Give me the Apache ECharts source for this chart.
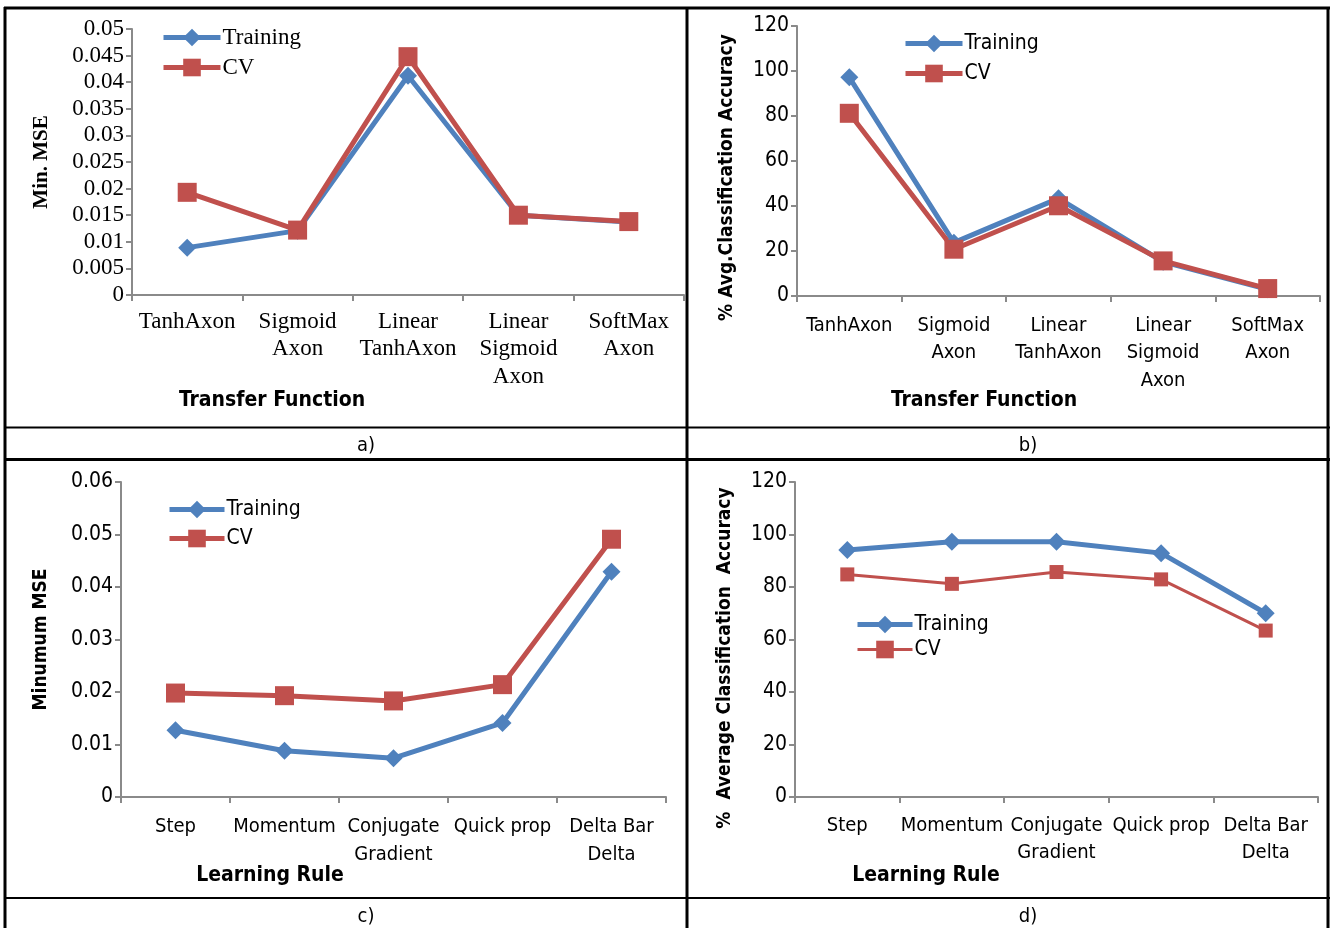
<!DOCTYPE html>
<html>
<head>
<meta charset="utf-8">
<script src="https://cdn.jsdelivr.net/npm/echarts@6/dist/echarts.min.js"></script>
<style>
html,body{margin:0;padding:0;background:#fff;}
#chart{width:1330px;height:928px;}
</style>
</head>
<body>
<div id="chart"></div>
<script>
// ---- Data ----
const categoriesTF = ['TanhAxon', 'Sigmoid\nAxon', 'Linear\nTanhAxon', 'Linear\nSigmoid\nAxon', 'SoftMax\nAxon'];
const categoriesLR = ['Step', 'Momentum', 'Conjugate\nGradient', 'Quick prop', 'Delta Bar\nDelta'];
const seriesNames = ['Training', 'CV'];

const mseTFTraining = [0.0089, 0.0121, 0.0412, 0.0150, 0.0137];
const mseTFCV = [0.0193, 0.0122, 0.0448, 0.0150, 0.0138];
const accTFTraining = [97.2, 23.7, 43.4, 15.2, 3.0];
const accTFCV = [81.2, 20.8, 40.1, 15.6, 3.3];
const mseLRTraining = [0.0127, 0.0088, 0.0074, 0.0141, 0.0429];
const mseLRCV = [0.0198, 0.0193, 0.0183, 0.0214, 0.0491];
const accLRTraining = [94.1, 97.2, 97.2, 92.9, 70.0];
const accLRCV = [84.8, 81.2, 85.7, 82.9, 63.4];

const yTicksA = ['0', '0.005', '0.01', '0.015', '0.02', '0.025', '0.03', '0.035', '0.04', '0.045', '0.05'];
const yTicksB = ['0', '20', '40', '60', '80', '100', '120'];
const yTicksC = ['0', '0.01', '0.02', '0.03', '0.04', '0.05', '0.06'];
const yTicksD = ['0', '20', '40', '60', '80', '100', '120'];

const panelCaptions = ['a)', 'b)', 'c)', 'd)'];
const axisTitlesX = ['Transfer Function', 'Transfer Function', 'Learning Rule', 'Learning Rule'];
const axisTitlesY = ['Min. MSE', '% Avg.Classification Accuracy', 'Minumum MSE', '%  Average Classification  Accuracy'];

// ---- Styles ----
const BLUE = '#4F81BD';
const RED = '#C0504D';
const AXIS = '#8a8a8a';
const SERIF = '"Liberation Serif", "Times New Roman", serif';
const NARROW = '"Liberation Sans Narrow", "Arial Narrow", "DejaVu Sans Condensed", sans-serif';

const grids = [
  {left: 132, top: 29, width: 552, height: 266},
  {left: 797, top: 26, width: 523, height: 270},
  {left: 121, top: 482, width: 545, height: 315},
  {left: 795, top: 482, width: 523, height: 315}
];

const fonts = [SERIF, NARROW, NARROW, NARROW];
const fontSizes = [23, 20, 20, 20];
const labelMargins = [13, 16, 16, 15];
const lineHeights = [27.5, 27.5, 28, 27];
const yRanges = [[0, 0.05, 0.005], [0, 120, 20], [0, 0.06, 0.01], [0, 120, 20]];
const yTickLists = [yTicksA, yTicksB, yTicksC, yTicksD];
const nameGaps = [80, 60, 70, 60];
const namePads = [[0, 0, 0, 0], [0, 33, 0, 0], [0, 0, 0, 0], [0, 37, 0, 0]];
const catLists = [categoriesTF, categoriesTF, categoriesLR, categoriesLR];

const xAxes = grids.map((g, i) => ({
  type: 'category',
  gridIndex: i,
  data: catLists[i],
  boundaryGap: true,
  axisLine: {lineStyle: {color: AXIS, width: 2}},
  axisTick: {show: true, inside: false, length: 6, lineStyle: {color: AXIS, width: 2}, alignWithLabel: false},
  axisLabel: {
    interval: 0, margin: labelMargins[i], color: '#000',
    fontFamily: fonts[i], fontSize: fontSizes[i], lineHeight: lineHeights[i], align: 'center'
  },
  splitLine: {show: false}
}));

const yAxes = grids.map((g, i) => ({
  type: 'value',
  gridIndex: i,
  min: yRanges[i][0], max: yRanges[i][1], interval: yRanges[i][2],
  axisLine: {show: true, lineStyle: {color: AXIS, width: 2}},
  axisTick: {show: true, inside: false, length: 6, lineStyle: {color: AXIS, width: 2}},
  axisLabel: {
    margin: 8, color: '#000', fontFamily: fonts[i], fontSize: i === 0 ? 23 : 21,
    formatter: (v) => {
      const list = yTickLists[i];
      const idx = Math.round((v - yRanges[i][0]) / yRanges[i][2]);
      return list[idx] !== undefined ? list[idx] : String(v);
    }
  },
  splitLine: {show: false},
  name: axisTitlesY[i],
  nameLocation: 'middle',
  nameRotate: 90,
  nameGap: nameGaps[i],
  nameTextStyle: {
    color: '#000', fontWeight: 'bold',
    fontFamily: i === 0 ? SERIF : NARROW,
    fontSize: i === 0 ? 21 : 19,
    padding: namePads[i]
  }
}));

function mkSeries(name, data, idx, color, symbol, symbolSize, width) {
  return {
    name: name, type: 'line', xAxisIndex: idx, yAxisIndex: idx, data: data,
    symbol: symbol, symbolSize: symbolSize,
    lineStyle: {color: color, width: width},
    itemStyle: {color: color},
    emphasis: {disabled: true},
    animation: false
  };
}

const series = [
  mkSeries('Training', mseTFTraining, 0, BLUE, 'diamond', 18, 5),
  mkSeries('CV', mseTFCV, 0, RED, 'rect', 19, 5),
  mkSeries('Training', accTFTraining, 1, BLUE, 'diamond', 18, 5),
  mkSeries('CV', accTFCV, 1, RED, 'rect', 19, 5),
  mkSeries('Training', mseLRTraining, 2, BLUE, 'diamond', 18, 5),
  mkSeries('CV', mseLRCV, 2, RED, 'rect', 19, 5),
  mkSeries('Training', accLRTraining, 3, BLUE, 'diamond', 18, 5),
  mkSeries('CV', accLRCV, 3, RED, 'rect', 14, 3)
];

const legendPos = [[161, 26], [903, 33], [167, 499], [855, 614]];
const legendGaps = [7, 9, 8, 4];
const legends = legendPos.map((p, i) => ({
  left: p[0], top: p[1], orient: 'vertical', padding: 0,
  itemWidth: i < 2 ? 57 : 55, itemHeight: 22, itemGap: legendGaps[i],
  selectedMode: false,
  textStyle: {fontFamily: fonts[i], fontSize: i === 0 ? 23 : 21, color: '#000', padding: [0, 0, 0, -3]},
  data: [
    {name: 'Training', itemStyle: {color: BLUE}, lineStyle: {color: BLUE, width: 5}},
    {name: 'CV', itemStyle: {color: RED}, lineStyle: {color: RED, width: i === 3 ? 3 : 5}}
  ]
}));

const xTitlePos = [[272, 398], [984, 398], [270, 873], [926, 873]];
const captionPos = [[366, 443], [1028, 443], [366, 914], [1028, 914]];
const titles = [];
xTitlePos.forEach((p, i) => titles.push({
  text: axisTitlesX[i], left: p[0], top: p[1] - 8, textAlign: 'center', padding: 0,
  textStyle: {fontFamily: NARROW, fontSize: 21, fontWeight: 'bold', color: '#000'}
}));
captionPos.forEach((p, i) => titles.push({
  text: panelCaptions[i], left: p[0], top: p[1] - 7, textAlign: 'center', padding: 0,
  textStyle: {fontFamily: NARROW, fontSize: 20, fontWeight: 'normal', color: '#000'}
}));

function hline(y, x1, x2, w) {
  return {type: 'line', shape: {x1: x1, y1: y, x2: x2, y2: y}, style: {stroke: '#000', lineWidth: w}, silent: true};
}
function vline(x, y1, y2, w) {
  return {type: 'line', shape: {x1: x, y1: y1, x2: x, y2: y2}, style: {stroke: '#000', lineWidth: w}, silent: true};
}
const borders = [
  hline(8, 4, 1330, 3),
  vline(5, 7, 928, 3),
  vline(1328, 7, 928, 3),
  vline(687, 7, 928, 3),
  hline(427.5, 4, 1330, 2),
  hline(459.5, 4, 1330, 3),
  hline(898, 4, 1330, 2)
];

const chart = echarts.init(document.getElementById('chart'));
chart.setOption({
  animation: false,
  backgroundColor: '#fff',
  title: titles,
  legend: legends,
  grid: grids,
  xAxis: xAxes,
  yAxis: yAxes,
  series: series,
  graphic: borders
});
</script>
</body>
</html>
